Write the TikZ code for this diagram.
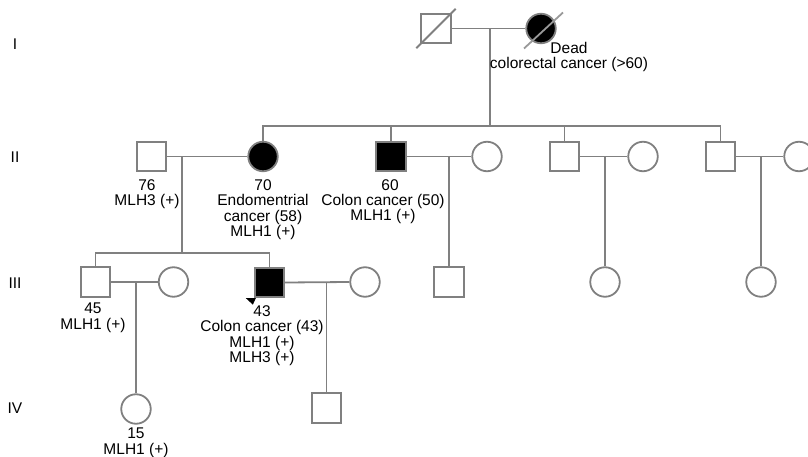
\documentclass[tikz,border=0pt]{standalone}
\usepackage{fontspec}
\setmainfont{Liberation Sans}
\definecolor{lg}{RGB}{128,128,128}
\begin{document}
\begin{tikzpicture}[x=1pt,y=-1pt,
  line/.style={draw=lg, line width=1.8pt},
  male/.style={draw=lg, line width=1.8pt, minimum size=29.5pt, inner sep=0pt, rectangle},
  female/.style={draw=lg, line width=1.8pt, minimum size=29.5pt, inner sep=0pt, circle},
  aff/.style={fill=black},
  lbl/.style={font=\fontsize{15.5}{15.5}\selectfont, align=center, anchor=north, inner sep=0pt},
  gen/.style={font=\fontsize{15.5}{15.5}\selectfont, inner sep=0pt}]
\useasboundingbox (0,0) rectangle (808,457);
% generation labels
\node[gen] (gI) at (15,44) {I};
\node[gen] (gII) at (15,157) {II};
\node[gen] (gIII) at (15,283) {III};
\node[gen] (gIV) at (15,408) {IV};
% Generation I
\node[male] (i1) at (436,28.5) {};
\node[female,aff] (i2) at (541,28.5) {};
\draw[line] ([shift={(-4,4)}]i1.south west) -- ([shift={(4,-4)}]i1.north east);
\draw[draw=lg!80, line width=1.8pt] ([shift={(-17,20)}]i2.center) -- ([shift={(22,-16)}]i2.center);
\draw[line] (i1.east) -- (i2.west);
\coordinate (dI) at (490,28.5);
\coordinate (sI) at (490,126);
\draw[line] (dI) -- (sI);
% Generation II
\node[male] (ii1) at (151.5,156.5) {};
\node[female,aff] (ii2) at (263,156.5) {};
\node[male,aff] (ii3) at (391,156.5) {};
\node[female] (ii4) at (487,156.5) {};
\node[male] (ii5) at (564.5,156.5) {};
\node[female] (ii6) at (643,156.5) {};
\node[male] (ii7) at (720.5,156.5) {};
\node[female] (ii8) at (799,156.5) {};
\draw[line] (ii2.north) -- (ii2.north |- sI) -- (ii7.north |- sI) -- (ii7.north);
\draw[line] (ii3.north) -- (ii3.north |- sI);
\draw[line] (ii5.north) -- (ii5.north |- sI);
\draw[line] (ii1.east) -- (ii2.west);
\draw[line] (ii3.east) -- (ii4.west);
\draw[line] (ii5.east) -- (ii6.west);
\draw[line] (ii7.east) -- (ii8.west);
% Generation III
\node[male] (iii1) at (95.5,282) {};
\node[female] (iii2) at (173.5,282) {};
\node[male,aff] (iii3) at (269.5,282.5) {};
\node[female] (iii4) at (365,282) {};
\node[male] (iii5) at (449,282) {};
\node[female] (iii6) at (605,282) {};
\node[female] (iii7) at (761,282) {};
\coordinate (dII1) at (182,156.5);
\coordinate (sII1) at (182,253);
\draw[line] (dII1) -- (sII1);
\draw[line] (iii1.north) -- (iii1.north |- sII1) -- (iii3.north |- sII1) -- (iii3.north);
\coordinate (dII3) at (449,156.5);
\coordinate (dII5) at (605,156.5);
\coordinate (dII7) at (761,156.5);
\draw[line] (dII3) -- (iii5.north);
\draw[line] (dII5) -- (iii6.north);
\draw[line] (dII7) -- (iii7.north);
\draw[line] (iii1.east) -- (iii2.west);
\draw[line] (iii3.east) -- (iii4.west);
\fill[black] ([shift={(-8,0)}]iii3.south west) -- ([shift={(2,0)}]iii3.south west) -- ([shift={(-1,6.5)}]iii3.south west) -- cycle;
% Generation IV
\node[female] (iv1) at (136,409) {};
\node[male] (iv2) at (326.5,408) {};
\coordinate (dIII1) at (136,282);
\coordinate (dIII3) at (326.5,282);
\draw[line] (dIII1) -- (iv1.north);
\draw[line] (dIII3) -- (iv2.north);
% labels
\node[lbl] (l_i2) at (569,42) {Dead\\colorectal cancer (>60)};
\node[lbl] (l_ii1) at (147,179) {76\\MLH3 (+)};
\node[lbl] (l_ii2) at (263,179) {70\\Endomentrial\\cancer (58)\\MLH1 (+)};
\node[lbl] (a_ii3) at (390,179) {60};
\node[lbl] (l_ii3) at (383,194) {Colon cancer (50)\\MLH1 (+)};
\node[lbl] (l_iii1) at (93,303) {45\\MLH1 (+)};
\node[lbl] (l_iii3) at (262,305) {43\\Colon cancer (43)\\MLH1 (+)\\MLH3 (+)};
\node[lbl] (l_iv1) at (136,428) {15\\MLH1 (+)};
\end{tikzpicture}
\end{document}
